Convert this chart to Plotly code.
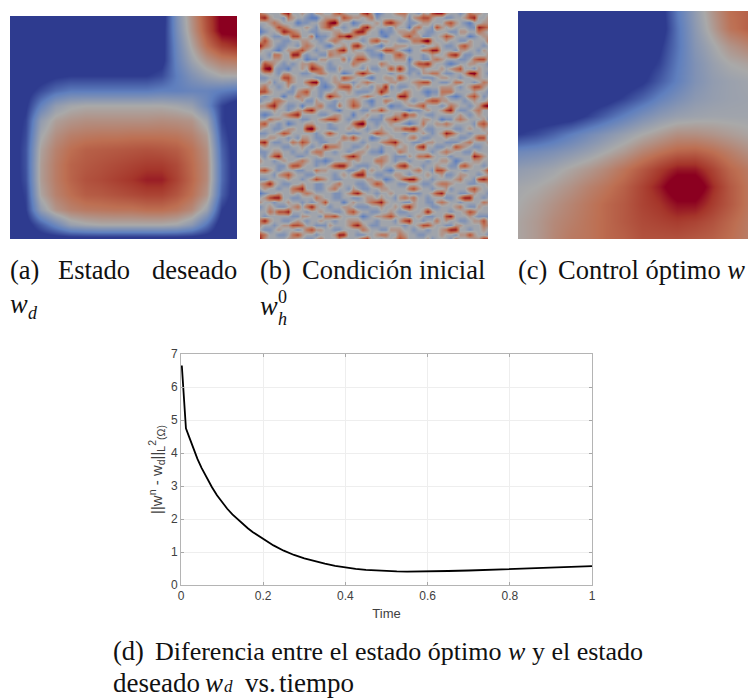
import plotly.graph_objects as go

W, H = 748, 698

# --- curve (panel d) ---
time_vals = [0.002, 0.012, 0.02, 0.03, 0.04, 0.05, 0.0625, 0.075, 0.0875, 0.1, 0.1125, 0.125, 0.1375, 0.15,
             0.1625, 0.175, 0.1875, 0.2, 0.225, 0.25, 0.275, 0.3, 0.325, 0.35, 0.375, 0.4, 0.425, 0.45, 0.475,
             0.5, 0.525, 0.55, 0.575, 0.6, 0.65, 0.7, 0.75, 0.8, 0.85, 0.9, 0.95, 1.0]
diff_vals = [6.65, 4.75, 4.48, 4.12, 3.82, 3.55, 3.25, 2.97, 2.72, 2.5, 2.31, 2.14, 1.99, 1.85,
             1.72, 1.6, 1.5, 1.4, 1.2, 1.04, 0.91, 0.81, 0.72, 0.65, 0.58, 0.53, 0.49, 0.46, 0.44,
             0.42, 0.41, 0.405, 0.405, 0.41, 0.425, 0.44, 0.46, 0.48, 0.505, 0.53, 0.55, 0.57]
x_ticks = [0, 0.2, 0.4, 0.6, 0.8, 1]
x_tick_labels = ["0", "0.2", "0.4", "0.6", "0.8", "1"]
y_ticks = [0, 1, 2, 3, 4, 5, 6, 7]

# --- field (a): desired state, top row first ---
field_a = [
 [0,0,0,0,0,0,0,0,0,0,0,.35,.6,.82,1,1],
 [0,0,0,0,0,0,0,0,0,0,.02,.33,.58,.8,1,1],
 [0,0,0,0,0,0,0,0,0,0,.03,.3,.52,.72,.85,.9],
 [0,0,0,0,0,0,0,0,0,0,.04,.28,.45,.58,.66,.68],
 [0,0,.02,.06,.08,.08,.08,.08,.08,.08,.12,.25,.36,.44,.5,.5],
 [0,.03,.12,.2,.24,.24,.24,.24,.24,.24,.26,.26,.28,.28,.25,.22],
 [0,.06,.27,.42,.48,.5,.5,.5,.5,.5,.5,.48,.44,.3,.1,0],
 [0,.1,.42,.54,.58,.6,.6,.6,.6,.6,.61,.6,.58,.46,.1,0],
 [0,.12,.48,.6,.66,.68,.69,.69,.7,.7,.7,.69,.65,.55,.14,0],
 [0,.14,.53,.65,.72,.76,.77,.78,.79,.8,.79,.77,.71,.6,.18,0],
 [0,.14,.55,.67,.75,.78,.8,.82,.84,.86,.86,.82,.73,.62,.2,0],
 [0,.13,.55,.67,.75,.8,.82,.85,.88,.92,.92,.84,.74,.62,.2,0],
 [0,.1,.52,.65,.72,.77,.78,.8,.82,.84,.84,.79,.71,.58,.17,0],
 [0,.08,.42,.58,.65,.68,.69,.7,.7,.72,.72,.69,.62,.45,.08,0],
 [0,.02,.16,.3,.44,.48,.5,.5,.5,.5,.5,.48,.4,.22,0,0],
 [0,0,0,0,0,0,0,0,0,0,0,0,0,0,0,0],
]

# --- field (b): initial condition, one digit per cell, top row first ---
field_b_rows = [
 "6544478445 4355446754 4478523445 6644354788 5443465544",
 "7854436544 3224555476 5545634444 4535677544 3344578445",
 "4456544423 3445689544 2344454786 5433455444 6754324455",
 "3445765444 5435674434 4478544435 4425644375 4544433876",
 "2344587654 4334445544 6885442334 5556443344 4335544654",
 "4543344774 4623345779 6544443244 4675533445 7644423455",
 "5754433445 5443456544 4434675544 3346689544 5443354446",
 "8654334435 6544324454 7854432445 5544434454 3346754434",
 "5443245567 5434455784 5443345775 4324466884 4435544354",
 "4436644884 3443365544 4554332446 7544434544 5785334445",
 "3445544544 2335544463 5775443445 5524433565 4443346774",
 "4765434345 5654434444 6544446544 4435778544 3234455443",
 "5894332445 4876433544 4435334475 8533454445 4567443544",
 "4554355443 3456544423 4686544434 4434355664 3344589543",
 "3344477544 4433445476 5443244554 7544433345 5443445544",
 "4453446544 6893345544 3456544455 4445677443 3466443465",
 "5644345344 4543234677 4544355834 3344544445 5543457754",
 "7754443356 7443445445 4333458644 4654432336 6644445443",
 "4344424465 5443586544 4456544344 8854443445 4323467534",
 "3446654445 3354443445 6543244654 4543446775 5444345445",
 "5578543342 4456433645 7644344423 3455674443 4654434589",
 "4445443455 7854443244 4433557544 4323345445 7843345644",
 "3234456784 4443345544 2445443445 5866443344 4445434544",
 "4465544443 3445677543 4454333568 6544455442 3356544453",
 "6744342344 5544434444 6894434454 4323464455 6544443675",
 "5443345544 8954433445 4543445445 5778543344 4433454454",
 "3344576444 4434575443 3344576544 4344454345 8754434445",
 "4455443435 5433444465 7544234454 4456433444 5443345773",
 "7843344657 6443344544 4434445678 5443345544 3334564445",
 "4544433445 4344866544 3345443445 4544784433 4476543344",
 "3345544344 3566443443 4554332444 6544444345 6544335444",
 "4357844433 4445444457 8644445543 3354667544 4344448754",
 "5443454456 5433234445 4544466543 4434443445 5423445544",
 "4444335775 4434457885 4333445445 7854434454 4336754434",
 "6754344433 4465544443 3464544324 4445644377 5444344457",
 "4443567544 3344443454 6884433445 5434445445 3345544345",
 "3344445443 4576543344 4445544234 5788544344 4456443786",
 "5685433445 4433445644 4334576444 3344433456 6544433445",
 "4544344678 4433456443 5433445544 4467544344 5344467544",
 "2344544545 6544443345 7854434454 4433344578 4443345443",
 "4578844334 4465443344 3345545443 5656443444 3346884434",
 "5443445443 4345744424 5445678544 4335443356 5443444465",
 "3454334564 6854434455 4333445445 4785444334 4456433544",
 "4465778444 3445443346 7544334454 3344458544 4344576444",
 "4344444335 5443667544 4423455675 4434543344 7844454333",
 "6854433454 3445443445 5544434443 5784434464 5443345574",
 "5443455776 4433354445 7854334444 4344577544 3355444465",
 "4334544434 6755443344 4465443355 5443443445 6884434454",
 "7644334675 4434445884 4334456644 6544334445 4435575443",
 "8544445544 3356444534 4578443445 7644445344 4364445588",
]
field_b = [[int(ch) for ch in row.replace(" ", "")] for row in field_b_rows]

# --- field (c): optimal control, coarse grid, top row first ---
field_c = [
 [0,0,0,0,0,0,0,0,.01,.24,.42,.58,.72,.76],
 [0,0,0,0,0,0,0,0,0,.22,.4,.55,.7,.76],
 [0,0,0,0,0,0,0,0,.06,.22,.38,.48,.58,.64],
 [0,0,0,0,0,0,0,.02,.1,.24,.36,.44,.5,.53],
 [0,0,0,0,0,0,.01,.06,.16,.26,.36,.42,.45,.47],
 [0,0,0,0,0,.03,.1,.18,.27,.34,.4,.43,.45,.46],
 [0,0,0,.02,.1,.18,.26,.34,.4,.44,.46,.47,.47,.47],
 [.08,.12,.18,.25,.32,.38,.44,.5,.55,.6,.6,.58,.55,.52],
 [.3,.32,.35,.39,.44,.5,.56,.64,.7,.75,.76,.72,.66,.6],
 [.42,.44,.47,.52,.57,.63,.7,.78,.86,.93,.93,.84,.74,.68],
 [.48,.5,.54,.59,.65,.7,.76,.84,.93,1.06,1.06,.9,.78,.7],
 [.5,.54,.59,.64,.69,.74,.78,.84,.88,.95,.95,.86,.78,.7],
 [.52,.56,.62,.66,.7,.74,.78,.82,.84,.86,.84,.8,.74,.68],
 [.52,.56,.63,.68,.7,.74,.76,.8,.8,.8,.78,.76,.72,.67],
]

cool_warm = [
 [0.00, "#2e3b8f"], [0.08, "#2e3b8f"], [0.25, "#5f7fbe"], [0.50, "#a9a9a9"],
 [0.72, "#bd6f52"], [0.88, "#a5352a"], [0.97, "#8b0020"], [1.00, "#8b0020"],
]

# --- caption texts ---
caption_texts = ["(a)", "Estado", "deseado", "<i>w</i>", "<i>d</i>",
                 "(b)", "Condición inicial", "<i>w</i>", "0", "<i>h</i>",
                 "(c)", "Control óptimo <i>w</i>",
                 "(d)", "Diferencia entre el estado óptimo <i>w</i> y el estado",
                 "deseado", "<i>w</i>", "<i>d</i>", "vs.", "tiempo"]
caption_x = [10, 58, 152, 10, 28,
             260, 302, 260, 278, 278,
             518, 558,
             113, 155,
             113, 205, 224, 245, 279]
caption_y = [272, 272, 272, 306, 314,
             272, 272, 308, 298, 320,
             272, 272,
             653, 653,
             685, 685, 688, 685, 685]
caption_size = [26.5, 26.5, 26.5, 26.5, 18,
                26.5, 26.5, 26.5, 18, 18,
                26.5, 26.5,
                26.5, 26,
                27, 27, 17, 27, 27]


def xd(a, b):
    return [a / W, b / W]

def yd(top, bottom):
    return [1 - bottom / H, 1 - top / H]

fig = go.Figure()

panels = [
 (field_a, "x", "y", 10, 237, 16, 239, 0, 1),
 (field_b, "x2", "y2", 260, 488, 13, 239, 0, 8.5),
 (field_c, "x3", "y3", 518, 748, 11, 239, 0, 1),
]
layout_axes = {}
for k, (z, xa, ya, l, r, t, b, zmin, zmax) in enumerate(panels):
    fig.add_trace(go.Heatmap(z=z, xaxis=xa, yaxis=ya, zsmooth="best", colorscale=cool_warm,
                             zmin=zmin, zmax=zmax, showscale=False, hoverinfo="skip"))
    nr, nc = len(z), len(z[0])
    sfx = "" if k == 0 else str(k + 1)
    layout_axes["xaxis" + sfx] = dict(domain=xd(l, r), range=[0, nc - 1], visible=False, anchor=ya)
    layout_axes["yaxis" + sfx] = dict(domain=yd(t, b), range=[nr - 1, 0], visible=False, anchor=xa)

fig.add_trace(go.Scatter(x=time_vals, y=diff_vals, xaxis="x4", yaxis="y4", mode="lines",
                         line=dict(color="black", width=1.8), showlegend=False, hoverinfo="skip"))

axis_font = dict(family="Liberation Sans", size=12, color="#404040")
layout_axes["xaxis4"] = dict(
    domain=xd(181, 592), range=[0, 1], anchor="y4", tickvals=x_ticks, ticktext=x_tick_labels,
    ticks="inside", ticklen=3, tickcolor="#a8a8a8", showline=True, linecolor="#b4b4b4", linewidth=1,
    mirror="ticks", showgrid=True, gridcolor="#eeeeee", zeroline=False, tickfont=axis_font,
    title=dict(text="Time", font=dict(family="Liberation Sans", size=13, color="#404040"), standoff=6),
)
layout_axes["yaxis4"] = dict(
    domain=yd(354, 585), range=[0, 7], anchor="x4", tickvals=y_ticks,
    ticks="inside", ticklen=3, tickcolor="#a8a8a8", showline=True, linecolor="#b4b4b4", linewidth=1,
    mirror="ticks", showgrid=True, gridcolor="#eeeeee", zeroline=False, tickfont=axis_font,
    title=dict(text="||w<sup>n</sup> - w<sub>d</sub>||<sub>L</sub><sup>2</sup><sub>(Ω)</sub>",
               font=dict(family="Liberation Sans", size=15, color="#404040"), standoff=4),
)

# captions live on a full-page axis pair, measured in page pixels
fig.add_trace(go.Scatter(x=caption_x, y=caption_y, text=caption_texts, xaxis="x5", yaxis="y5",
                         mode="text", textposition="middle right", cliponaxis=False,
                         textfont=dict(family="Liberation Serif", size=caption_size, color="#111111"),
                         showlegend=False, hoverinfo="skip"))
layout_axes["xaxis5"] = dict(domain=[0, 1], range=[0, W], visible=False, anchor="y5")
layout_axes["yaxis5"] = dict(domain=[0, 1], range=[H, 0], visible=False, anchor="x5")

fig.update_layout(width=W, height=H, margin=dict(l=0, r=0, t=0, b=0, autoexpand=False),
                  paper_bgcolor="white", plot_bgcolor="rgba(0,0,0,0)", showlegend=False, **layout_axes)

fig.write_html("out.html", post_script="document.body.style.margin='0';",
               config={"displayModeBar": False})
